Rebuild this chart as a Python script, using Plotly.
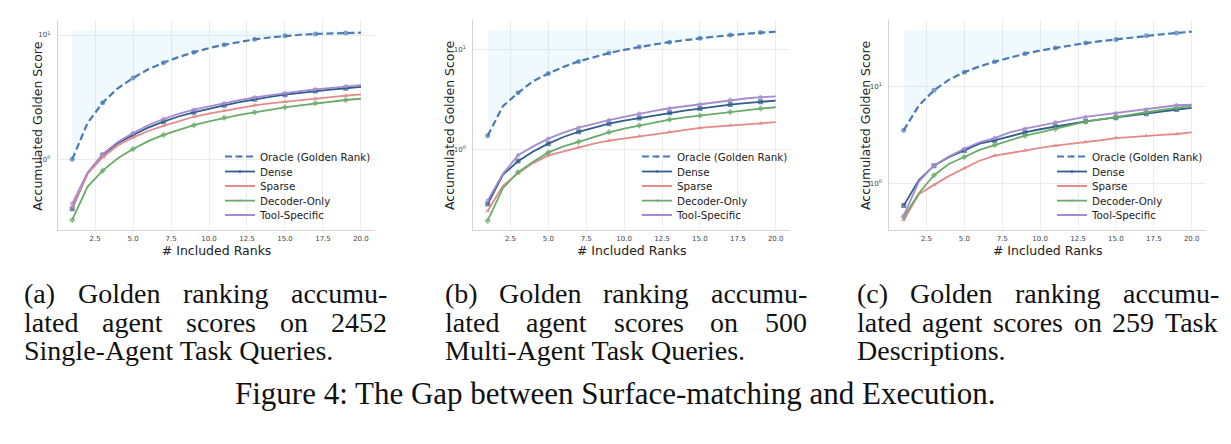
import plotly.graph_objects as go

# ---------------- data ----------------
ranks = list(range(1, 21))
series_names = ["Oracle (Golden Rank)", "Dense", "Sparse", "Decoder-Only", "Tool-Specific"]

a_oracle = [1.0, 1.95, 2.85, 3.73, 4.51, 5.3, 5.98, 6.65, 7.26, 7.85, 8.35, 8.8, 9.23, 9.55, 9.86, 10.05, 10.2, 10.3, 10.4, 10.45]
a_dense = [0.40, 0.77, 1.08, 1.35, 1.57, 1.80, 2.01, 2.21, 2.39, 2.56, 2.72, 2.88, 3.04, 3.18, 3.31, 3.43, 3.54, 3.64, 3.73, 3.82]
a_sparse = [0.41, 0.76, 1.04, 1.29, 1.50, 1.69, 1.86, 2.03, 2.20, 2.33, 2.46, 2.59, 2.72, 2.82, 2.91, 3.00, 3.09, 3.17, 3.25, 3.33]
a_decoder = [0.325, 0.60, 0.81, 1.02, 1.21, 1.40, 1.57, 1.73, 1.88, 2.02, 2.16, 2.28, 2.39, 2.51, 2.62, 2.72, 2.82, 2.91, 3.00, 3.07]
a_tool = [0.44, 0.78, 1.10, 1.38, 1.63, 1.88, 2.11, 2.32, 2.51, 2.67, 2.82, 2.99, 3.15, 3.29, 3.42, 3.54, 3.66, 3.77, 3.87, 3.96]

b_oracle = [1.38, 2.71, 3.69, 4.82, 5.75, 6.7, 7.59, 8.4, 9.19, 9.9, 10.6, 11.2, 11.8, 12.4, 12.9, 13.4, 13.9, 14.3, 14.7, 15.0]
b_dense = [0.288, 0.562, 0.77, 0.96, 1.15, 1.34, 1.51, 1.67, 1.82, 1.95, 2.07, 2.20, 2.33, 2.45, 2.57, 2.70, 2.82, 2.91, 3.00, 3.09]
b_sparse = [0.245, 0.436, 0.584, 0.736, 0.878, 0.96, 1.06, 1.15, 1.23, 1.30, 1.36, 1.42, 1.50, 1.58, 1.65, 1.70, 1.75, 1.79, 1.83, 1.88]
b_decoder = [0.196, 0.414, 0.598, 0.76, 0.94, 1.08, 1.20, 1.34, 1.49, 1.62, 1.74, 1.88, 2.00, 2.10, 2.19, 2.28, 2.38, 2.48, 2.57, 2.65]
b_tool = [0.311, 0.575, 0.88, 1.08, 1.29, 1.48, 1.66, 1.82, 1.97, 2.13, 2.29, 2.44, 2.59, 2.71, 2.84, 2.99, 3.14, 3.24, 3.34, 3.41]

c_oracle = [3.54, 6.4, 9.2, 11.9, 14.2, 16.3, 18.2, 20.2, 22.1, 23.8, 25.3, 26.9, 28.5, 29.8, 31.1, 32.5, 34.0, 35.1, 36.2, 37.4]
c_dense = [0.585, 1.08, 1.52, 1.87, 2.19, 2.57, 2.78, 3.08, 3.37, 3.63, 3.89, 4.15, 4.39, 4.59, 4.79, 5.03, 5.27, 5.55, 5.81, 6.04]
c_sparse = [0.415, 0.768, 0.96, 1.19, 1.43, 1.71, 1.93, 2.06, 2.19, 2.32, 2.45, 2.55, 2.67, 2.79, 2.94, 3.03, 3.11, 3.18, 3.24, 3.37]
c_decoder = [0.442, 0.787, 1.21, 1.59, 1.87, 2.22, 2.49, 2.80, 3.11, 3.37, 3.65, 4.00, 4.35, 4.60, 4.87, 5.18, 5.49, 5.75, 6.04, 6.39]
c_tool = [0.46, 1.04, 1.53, 1.90, 2.28, 2.65, 2.94, 3.37, 3.68, 3.97, 4.28, 4.58, 4.87, 5.10, 5.32, 5.56, 5.81, 6.12, 6.44, 6.55]

x_tickvals = [2.5, 5.0, 7.5, 10.0, 12.5, 15.0, 17.5, 20.0]
y_tickvals = [1, 10]
y_ticktext = ["10<sup>0</sup>", "10<sup>1</sup>"]

x_title = "# Included Ranks"
y_title = "Accumulated Golden Score"

caption_a = ["(a) Golden ranking accumu-", "lated agent scores on 2452", "Single-Agent Task Queries."]
caption_b = ["(b) Golden ranking accumu-", "lated agent scores on 500", "Multi-Agent Task Queries."]
caption_c = ["(c) Golden ranking accumu-", "lated agent scores on 259 Task", "Descriptions."]
figure_caption = "Figure 4: The Gap between Surface-matching and Execution."

panels = [
    [a_oracle, a_dense, a_sparse, a_decoder, a_tool],
    [b_oracle, b_dense, b_sparse, b_decoder, b_tool],
    [c_oracle, c_dense, c_sparse, c_decoder, c_tool],
]
captions = [caption_a, caption_b, caption_c]

# ---------------- style / layout ----------------
W, H = 1231, 444
def px(x):
    return x / W
def py(y):
    return 1 - y / H

colors = ["#4a7bb5", "#2f5d8c", "#e58a8a", "#6aab6a", "#a68bd1"]
symbols = ["circle", "square", "triangle-up", "diamond", "pentagon"]
widths = [2.2, 1.8, 1.8, 1.8, 1.8]
dashes = ["7px,3.5px", "solid", "solid", "solid", "solid"]
fill_color = "rgba(135,206,250,0.13)"

x_dom = [(57.8, 375.4), (473.3, 790.1), (889.3, 1206.1)]
y_dom = (20.0, 230.0)
y_ranges = [(-0.569, 1.121), (-0.80, 1.293), (-0.486, 1.694)]
legend_text_x = [258, 675, 1090]
legend_rows = [156.5, 171.5, 186.0, 200.7, 215.0]
ytitle_x = [36.7, 449.0, 865.0]
ytitle_y = 126.0

caption_left = [22, 443, 855]
caption_right = [385, 805, 1217]
caption_rows = [293, 322, 350]
justify_rows = [[True, True, False], [True, True, False], [True, True, False]]
cap_size = 28

font_sans = "DejaVu Sans"
font_serif = "Liberation Serif"

# approximate Times/Liberation Serif advance widths (per 1000 em)
TW = {' ': 250, '(': 333, ')': 333, '-': 333, '.': 250, ':': 278,
      'a': 444, 'b': 500, 'c': 444, 'd': 500, 'e': 444, 'f': 333, 'g': 500, 'h': 500,
      'i': 278, 'j': 278, 'k': 500, 'l': 278, 'm': 778, 'n': 500, 'o': 500, 'p': 500,
      'q': 500, 'r': 333, 's': 389, 't': 278, 'u': 500, 'v': 500, 'w': 722, 'x': 500,
      'y': 500, 'z': 444, 'A': 722, 'D': 722, 'G': 722, 'M': 889, 'Q': 722, 'S': 556,
      'T': 611, '0': 500, '2': 500, '4': 500, '5': 500, '9': 500}
def text_w(s, size):
    return sum(TW.get(ch, 500) for ch in s) * size / 1000.0

fig = go.Figure()
layout_extra = {}
leg_idx = 0
for p, data in enumerate(panels):
    xa = "x" if p == 0 else f"x{p+1}"
    ya = "y" if p == 0 else f"y{p+1}"
    oracle = data[0]
    top = max(oracle) * 1.04
    fig.add_trace(go.Scatter(x=ranks, y=[top] * len(ranks), mode="lines", line=dict(width=0),
                             showlegend=False, hoverinfo="skip", xaxis=xa, yaxis=ya))
    fig.add_trace(go.Scatter(x=ranks, y=oracle, mode="lines", line=dict(width=0), fill="tonexty",
                             fillcolor=fill_color, showlegend=False, hoverinfo="skip", xaxis=xa, yaxis=ya))
    for s, vals in enumerate(data):
        leg_idx += 1
        lname = "legend" if leg_idx == 1 else f"legend{leg_idx}"
        sizes = [5 if i % 2 == 0 else 0 for i in range(len(ranks))]
        fig.add_trace(go.Scatter(
            x=ranks, y=vals, mode="lines+markers", name=series_names[s],
            line=dict(color=colors[s], width=widths[s], dash=dashes[s]),
            marker=dict(color=colors[s], size=sizes, symbol=symbols[s], line=dict(width=0)),
            xaxis=xa, yaxis=ya, legend=lname, showlegend=True))
        layout_extra[lname] = dict(
            x=px(legend_text_x[p] - 38), y=py(legend_rows[s]), xanchor="left", yanchor="middle",
            bgcolor="rgba(0,0,0,0)", borderwidth=0,
            font=dict(family=font_sans, size=10.3, color="#222222"),
            itemwidth=30)

    axis_common = dict(showline=True, linecolor="#d4d4d4", linewidth=1, mirror=False,
                       showgrid=True, gridcolor="#ececec", gridwidth=1, zeroline=False,
                       ticks="", tickfont=dict(family=font_sans, size=7, color="#444444"))
    xkey = "xaxis" if p == 0 else f"xaxis{p+1}"
    ykey = "yaxis" if p == 0 else f"yaxis{p+1}"
    layout_extra[xkey] = dict(
        axis_common, domain=[px(x_dom[p][0]), px(x_dom[p][1])], anchor=ya,
        range=[0.05, 20.95], tickvals=x_tickvals, tickformat=".1f",
        ticklabelstandoff=2,
        title=dict(text=x_title, font=dict(family=font_sans, size=12.5, color="#222222"), standoff=1))
    layout_extra[ykey] = dict(
        axis_common, domain=[py(y_dom[1]), py(y_dom[0])], anchor=xa, type="log",
        range=list(y_ranges[p]), tickvals=y_tickvals, ticktext=y_ticktext,
        ticklabelstandoff=5)

annotations = []
def add_text(text, x, y, anchor, size, family, color="#111111", angle=0):
    annotations.append(dict(text=text, x=px(x), y=py(y), xref="paper", yref="paper",
                            xanchor=anchor, yanchor="middle", showarrow=False, textangle=angle,
                            font=dict(family=family, size=size, color=color)))

# y-axis titles
for p in range(3):
    add_text(y_title, ytitle_x[p], ytitle_y, "center", 12.5, font_sans, "#222222", -90)

# sub-captions (justified lines)
for p, lines in enumerate(captions):
    x0, x1 = caption_left[p], caption_right[p]
    for r, line in enumerate(lines):
        yv = caption_rows[r]
        words = line.split(" ")
        if justify_rows[p][r] and len(words) > 1:
            total = sum(text_w(w, cap_size) for w in words)
            gap = (x1 - x0 - total) / (len(words) - 1)
            cur = x0
            for w in words:
                add_text(w, cur, yv, "left", cap_size, font_serif)
                cur += text_w(w, cap_size) + gap
        else:
            add_text(line, x0, yv, "left", cap_size, font_serif)

add_text(figure_caption, 615, 393, "center", 31, font_serif)

fig.update_layout(
    width=W, height=H, margin=dict(l=0, r=0, t=0, b=0),
    paper_bgcolor="white", plot_bgcolor="white",
    annotations=annotations, **layout_extra)

fig.write_html("out.html")
